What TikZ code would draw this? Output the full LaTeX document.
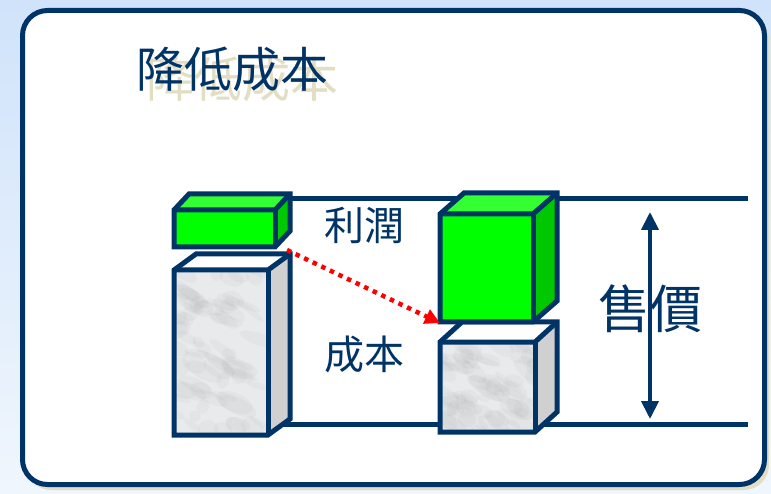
\documentclass[tikz,border=0pt]{standalone}
\usepackage{fontspec}
\newfontfamily\cjk{Noto Sans CJK TC}
\usetikzlibrary{arrows.meta}
\definecolor{navy}{HTML}{003366}
\definecolor{beige}{HTML}{E2DEC4}
\definecolor{frontgreen}{HTML}{00FF00}
\definecolor{sidegreen}{HTML}{00C800}
\definecolor{topgreen}{HTML}{33FF33}
\definecolor{marble}{HTML}{E8EAEC}
\definecolor{marbleside}{HTML}{D0D0D0}
\tikzset{
  edge/.style={navy, line width=5pt, line join=miter},
  rule/.style={navy, line width=5pt},
  label/.style={navy, font=\cjk\fontsize{40}{40}\selectfont, inner sep=0pt},
}
% solid box: front face (#1,#2)-(#3,#4), depth (#5,#6), colours front/side/top
\newcommand\solidbox[9]{%
  \fill[#9] (#1,#2) -- (#1+#5,#2-#6) -- (#3+#5,#2-#6) -- (#3,#2) -- cycle;
  \fill[#8] (#3,#2) -- (#3+#5,#2-#6) -- (#3+#5,#4-#6) -- (#3,#4) -- cycle;
  \fill[#7] (#1,#2) rectangle (#3,#4);
}
\newcommand\boxedges[6]{%
  \draw[edge] (#1,#2) -- (#1+#5,#2-#6) -- (#3+#5,#2-#6) -- (#3+#5,#4-#6) -- (#3,#4) -- (#1,#4) -- cycle;
  \draw[edge] (#1,#2) -- (#3,#2) -- (#3+#5,#2-#6);
  \draw[edge] (#3,#2) -- (#3,#4);
}
% mottled stone texture on a front face
\newcommand\stone[4]{%
  \begin{scope}
    \clip (#1,#2) rectangle (#3,#4);
    \foreach \i in {1,...,70}{
      \pgfmathsetmacro\px{#1+rnd*(#3-#1)}
      \pgfmathsetmacro\py{#2+rnd*(#4-#2)}
      \pgfmathsetmacro\rx{6+rnd*16}
      \pgfmathsetmacro\ry{3+rnd*7}
      \pgfmathsetmacro\an{-40+rnd*30}
      \fill[gray, opacity=0.05, rotate around={\an:(\px,\py)}] (\px,\py) ellipse ({\rx} and {\ry});
    }
  \end{scope}
}
\begin{document}
\begin{tikzpicture}[x=1pt,y=-1pt]
\useasboundingbox (0,0) rectangle (771,494);
\pgfmathsetseed{11}
% page background
\shade[top color={rgb,255:red,208;green,227;blue,250}, bottom color={rgb,255:red,240;green,246;blue,253}] (0,0) rectangle (771,494);
% panel with shadow
\fill[beige, rounded corners=25pt] (26,14) rectangle (769,490);
\draw[navy, line width=5pt, fill=white, rounded corners=25pt] (22.5,10.5) rectangle (764.5,484.5);

% title with shadow
\node[font=\cjk\fontsize{48}{48}\selectfont, text=beige, inner sep=0pt] (titleshadow) at (242,79) {降低成本};
\node[font=\cjk\fontsize{48}{48}\selectfont, text=navy, inner sep=0pt] (title) at (232,69) {降低成本};

% price levels
\coordinate (topL) at (280,199);
\coordinate (topR) at (748,199);
\coordinate (botL) at (270,424);
\coordinate (botR) at (748,424);
\draw[rule] (topL) -- (topR);
\draw[rule] (botL) -- (botR);

% left column: cost and profit
\solidbox{174}{270}{268}{435}{22}{16}{marble}{marbleside}{white}
\stone{174}{270}{268}{435}
\boxedges{174}{270}{268}{435}{22}{16}
\solidbox{174}{210}{275}{247}{15}{16}{frontgreen}{sidegreen}{topgreen}
\boxedges{174}{210}{275}{247}{15}{16}

% right column: lower cost, larger profit
\solidbox{440}{342}{535}{432}{22}{20}{marble}{marbleside}{white}
\stone{440}{342}{535}{432}
\boxedges{440}{342}{535}{432}{22}{20}
\solidbox{440}{214}{533}{322}{24}{21}{frontgreen}{sidegreen}{topgreen}
\boxedges{440}{214}{533}{322}{24}{21}

% labels
\node[label] (profit) at (364,225) {利潤};
\node[label] (cost) at (364,354) {成本};
\node[label, font=\cjk\fontsize{52}{52}\selectfont] (price) at (650,309) {售價};

% shift from old cost top to new one
\coordinate (shiftA) at (287,250);
\coordinate (shiftB) at (440,323);
\draw[red, line width=4.5pt, dash pattern=on 4.5pt off 5pt, -{Triangle[length=15pt, width=15pt]}] (shiftA) -- (shiftB);

% selling price span
\coordinate (spanT) at (650,212);
\coordinate (spanB) at (650,419);
\draw[navy, line width=4pt, {Triangle[length=18pt, width=17pt]}-{Triangle[length=18pt, width=17pt]}] (spanT) -- (spanB);
\end{tikzpicture}
\end{document}
